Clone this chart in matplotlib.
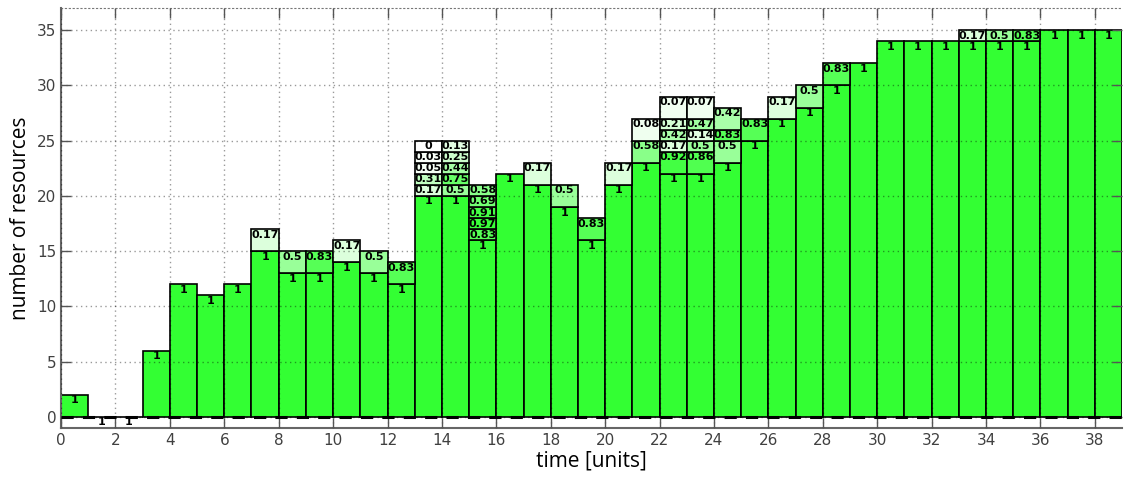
import numpy as np
import matplotlib
matplotlib.use("Agg")
import matplotlib.pyplot as plt

# base allocation (label "1") for each time unit 0..38
times = list(range(39))
base = [2, 0, 0, 6, 12, 11, 12, 15, 13, 13, 14, 13, 12, 20, 20, 16, 22, 21, 19, 16,
        21, 23, 22, 22, 23, 25, 27, 28, 30, 32, 34, 34, 34, 34, 34, 34, 35, 35, 35]

# partial segments stacked on top of the base, listed bottom-up
seg_time = [7, 8, 9, 10, 11, 12,
            13, 13, 13, 13, 13,
            14, 14, 14, 14, 14,
            15, 15, 15, 15, 15,
            17, 18, 19, 20,
            21, 21,
            22, 22, 22, 22, 22,
            23, 23, 23, 23, 23,
            24, 24, 24,
            25, 26, 27, 28,
            33, 34, 35]
seg_frac = [0.17, 0.5, 0.83, 0.17, 0.5, 0.83,
            0.17, 0.31, 0.05, 0.03, 0,
            0.5, 0.75, 0.44, 0.25, 0.13,
            0.83, 0.97, 0.91, 0.69, 0.58,
            0.17, 0.5, 0.83, 0.17,
            0.58, 0.08,
            0.92, 0.17, 0.42, 0.21, 0.07,
            0.86, 0.5, 0.14, 0.47, 0.07,
            0.5, 0.83, 0.42,
            0.83, 0.17, 0.5, 0.83,
            0.17, 0.5, 0.83]
seg_size = [2, 2, 2, 2, 2, 2,
            1, 1, 1, 1, 1,
            1, 1, 1, 1, 1,
            1, 1, 1, 1, 1,
            2, 2, 2, 2,
            2, 2,
            2, 1, 1, 1, 2,
            2, 1, 1, 1, 2,
            2, 1, 2,
            2, 2, 2, 2,
            1, 1, 1]

green = np.array([51, 255, 51]) / 255.0
white = np.ones(3)


def label_text(v):
    return "%g" % v


fig = plt.figure(figsize=(11.3, 4.79), dpi=100)
ax = fig.add_axes([0.054, 0.1065, 0.939, 0.8765])

# base bars
ax.bar(times, base, width=1.0, align="edge", color=green, edgecolor="black",
       linewidth=1.2, zorder=2)
for t, b in zip(times, base):
    ax.text(t + 0.5, b - 0.5, "1", ha="center", va="center", fontsize=8,
            fontweight="bold", zorder=5)

# stacked partial segments
top = dict(zip(times, base))
for t, f, h in zip(seg_time, seg_frac, seg_size):
    col = white * (1 - f) + green * f
    bottom = top[t]
    ax.bar(t, h, bottom=bottom, width=1.0, align="edge", color=col,
           edgecolor="black", linewidth=1.2, zorder=2)
    top[t] = bottom + h
    ax.text(t + 0.5, bottom + h - 0.5, label_text(f), ha="center", va="center",
            fontsize=8, fontweight="bold", zorder=5)

# zero line
ax.axhline(0, color="black", linewidth=2.2, linestyle=(0, (4, 3)), zorder=4)

ax.set_xlim(0, 39)
ax.set_ylim(-1, 37)
ax.set_xticks(range(0, 39, 2))
ax.set_yticks(range(0, 36, 5))
ax.grid(True, linestyle=(0, (1, 2.5)), color="black", alpha=0.4, linewidth=1.0)
ax.set_axisbelow(False)

ax.tick_params(direction="in", length=7, width=1, colors="#555555",
               labelcolor="#404040", labelsize=11, top=True, right=True)
for s in ["left", "bottom"]:
    ax.spines[s].set_color("#666666")
    ax.spines[s].set_linewidth(1.5)
ax.spines["right"].set_visible(False)
ax.spines["top"].set_linestyle((0, (1, 2.5)))
ax.spines["top"].set_color("#777777")

ax.set_xlabel("time [units]", fontsize=15, family=["Open Sans", "DejaVu Sans"],
              labelpad=2)
ax.set_ylabel("number of resources", fontsize=15,
              family=["Open Sans", "DejaVu Sans"], labelpad=4)

fig.savefig("out.png", dpi=100)
